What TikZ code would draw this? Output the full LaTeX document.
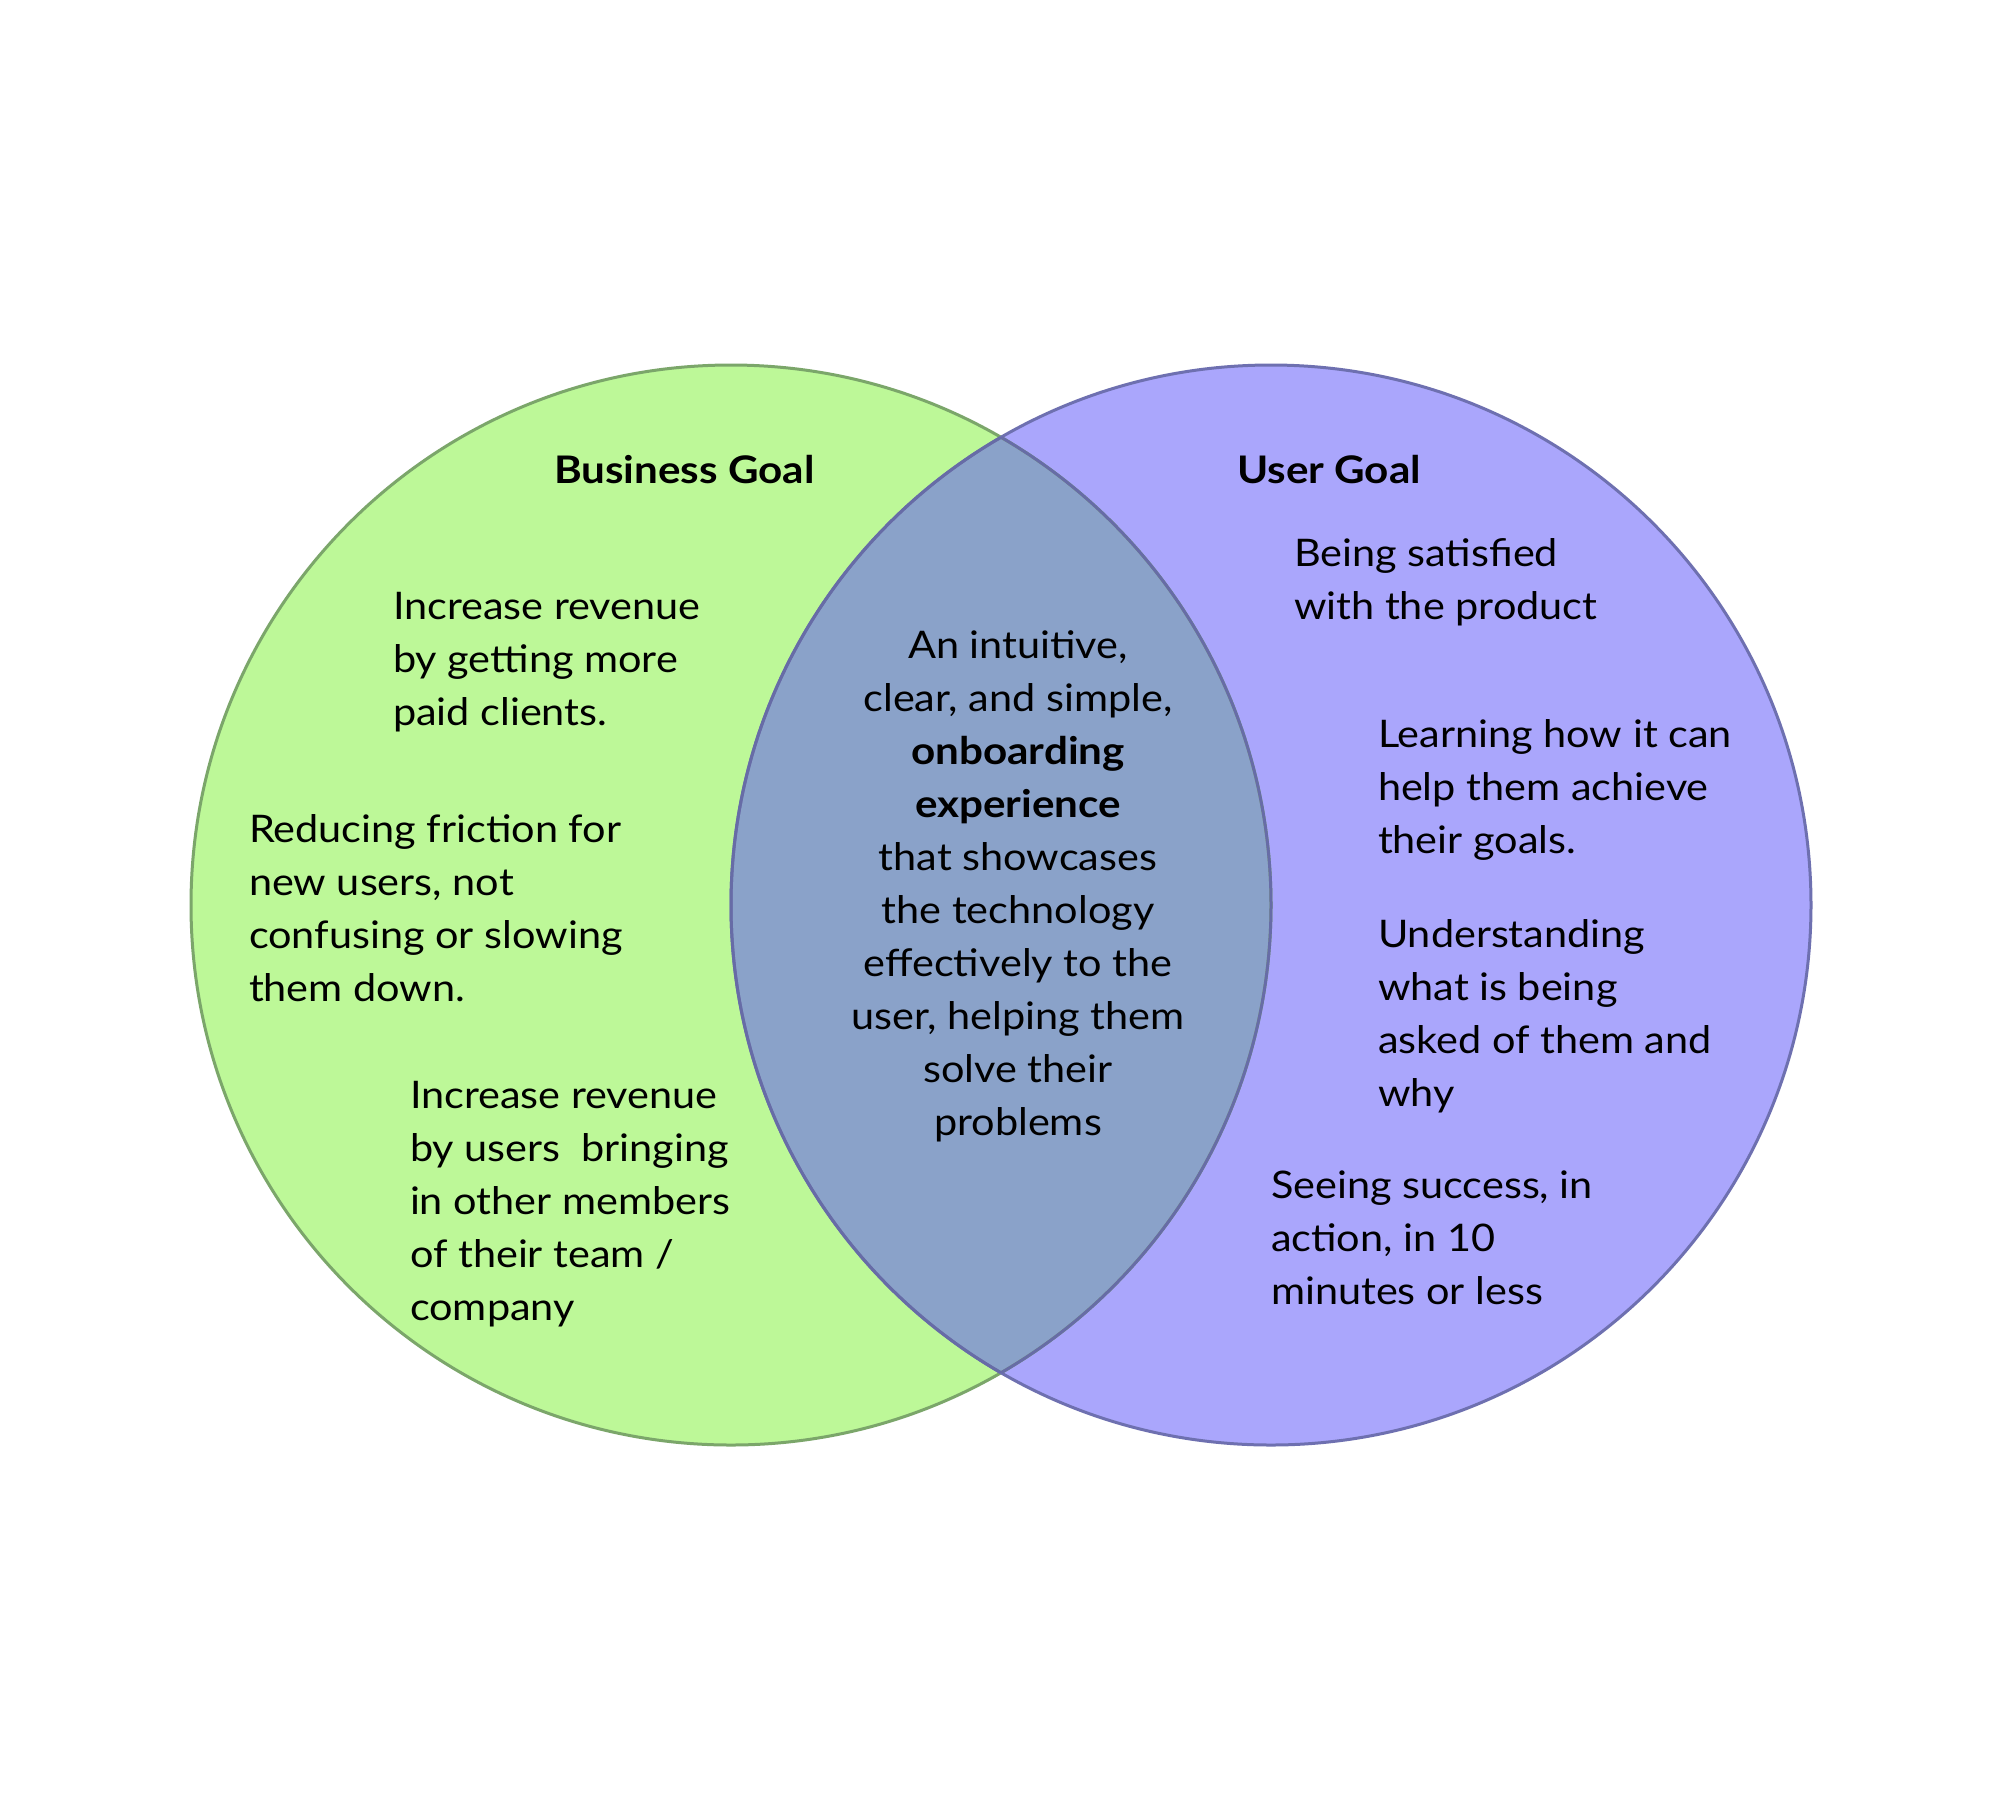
\documentclass[tikz,border=0pt]{standalone}
\usepackage{fontspec}
\setmainfont{Lato}[FakeStretch=1.09, BoldFeatures={FakeStretch=1.11}]
\definecolor{gfill}{HTML}{BDF898}
\definecolor{pfill}{HTML}{AAA6FC}
\definecolor{ofill}{HTML}{8AA2C9}
\definecolor{gline}{HTML}{7BA66A}
\definecolor{pline}{HTML}{6E70B0}
\definecolor{oline}{HTML}{676CA6}
\newcommand\lblock[1]{\vtop{\baselineskip=26.5pt\lineskiplimit=-10pt\halign{##\hfil\cr#1\crcr}}}
\newcommand\cblock[1]{\vtop{\baselineskip=26.5pt\lineskiplimit=-10pt\halign{\hfil##\hfil\cr#1\crcr}}}
\tikzset{
  txt/.style={inner sep=0pt, outer sep=0pt, font=\fontsize{19}{26.5}\selectfont, text=black},
  ring/.style={line width=1.5pt},
}
\begin{document}
\begin{tikzpicture}[x=0.5pt,y=-0.5pt]
\useasboundingbox (0,0) rectangle (1999,1812);
\fill[white] (0,0) rectangle (1999,1812);
\coordinate (cl) at (731,905);
\coordinate (cr) at (1271,905);
\def\R{270pt}
\fill[gfill] (cl) circle[radius=\R];
\fill[pfill] (cr) circle[radius=\R];
\begin{scope}
  \clip (cl) circle[radius=\R];
  \fill[ofill] (cr) circle[radius=\R];
\end{scope}
\draw[ring, gline] (cl) circle[radius=\R];
\draw[ring, pline] (cr) circle[radius=\R];
\begin{scope}
  \clip (cr) circle[radius=\R];
  \draw[ring, oline] (cl) circle[radius=\R];
\end{scope}
\begin{scope}
  \clip (cl) circle[radius=\R];
  \draw[ring, oline] (cr) circle[radius=\R];
\end{scope}

\node[txt, anchor=base west] (bgoal) at (554,483) {\bfseries Business Goal};
\node[txt, anchor=base west] (ugoal) at (1237,483) {\bfseries User Goal};

\node[txt, anchor=base west] (b1) at (393,619) {\lblock{Increase revenue\cr by getting more\cr paid clients.}};
\node[txt, anchor=base west] (b2) at (249,842) {\lblock{Reducing friction for\cr new users, not\cr confusing or slowing\cr them down.}};
\node[txt, anchor=base west] (b3) at (410,1108) {\lblock{Increase revenue\cr by users\ \ bringing\cr in other members\cr of their team /\cr company}};

\node[txt, anchor=base] (mid) at (1018,658) {\cblock{An intuitive,\cr clear, and simple,\cr \bfseries onboarding\cr \bfseries experience\cr that showcases\cr the technology\cr effectively to the\cr user, helping them\cr solve their\cr problems}};

\node[txt, anchor=base west] (u1) at (1294,566) {\lblock{Being satisfied\cr with the product}};
\node[txt, anchor=base west] (u2) at (1378,747) {\lblock{Learning how it can\cr help them achieve\cr their goals.}};
\node[txt, anchor=base west] (u3) at (1378,947) {\lblock{Understanding\cr what is being\cr asked of them and\cr why}};
\node[txt, anchor=base west] (u4) at (1271,1198) {\lblock{Seeing success, in\cr action, in 10\cr minutes or less}};
\end{tikzpicture}
\end{document}
